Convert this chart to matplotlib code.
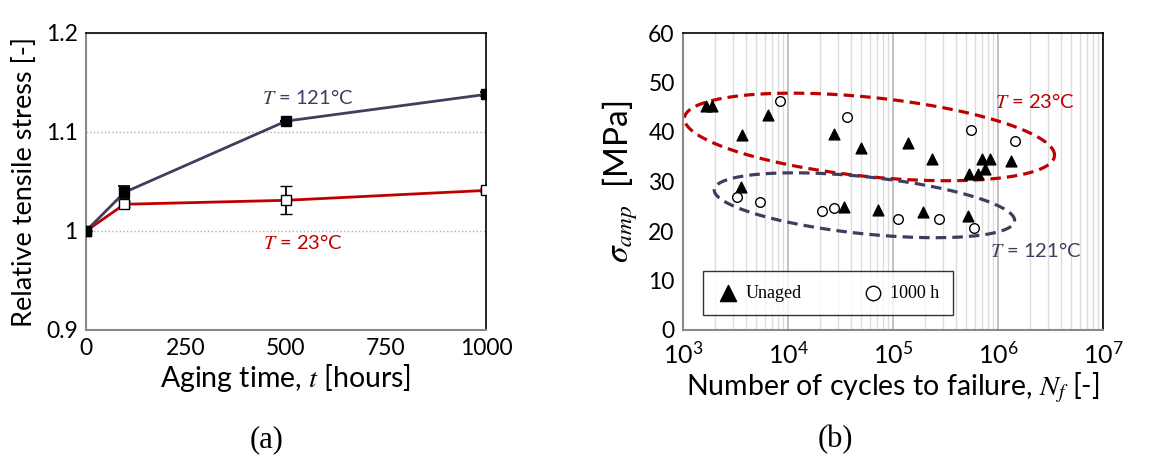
import numpy as np
import matplotlib
matplotlib.use("Agg")
import matplotlib.pyplot as plt
from matplotlib.ticker import LogLocator, LogFormatterMathtext, NullFormatter

plt.rcParams['font.family'] = ['Lato', 'DejaVu Sans']
plt.rcParams['mathtext.fontset'] = 'stix'

# ---- panel (a): relative tensile stress vs aging time
t_hours = [0, 96, 500, 1000]
rel_121 = [1.000, 1.039, 1.111, 1.138]
err_121 = [0.0, 0.006, 0.0, 0.002]
rel_23 = [1.000, 1.027, 1.031, 1.041]
err_23 = [0.0, 0.003, 0.014, 0.002]

# ---- panel (b): S-N data
unaged_N = [1650, 1900, 3670, 6450, 3590, 27400, 49900, 34100, 139000, 72000,
            235000, 193000, 526000, 646000, 757000, 709000, 833000, 1.32e6, 518000]
unaged_S = [45.3, 45.3, 39.4, 43.4, 28.8, 39.6, 36.7, 24.8, 37.8, 24.3,
            34.6, 23.9, 31.5, 31.5, 32.5, 34.6, 34.6, 34.1, 23.1]
aged_N = [8340, 36500, 557000, 1.44e6, 3270, 5370, 21200, 27400, 112000, 274000, 590000]
aged_S = [46.3, 43.0, 40.5, 38.2, 26.9, 25.9, 24.1, 24.7, 22.5, 22.5, 20.6]

RED = '#C00000'
BLUE = '#403E5E'

W, H = 1171, 458
fig = plt.figure(figsize=(W / 100, H / 100), dpi=100)

def px_axes(l, t, r, b):
    return fig.add_axes([l / W, 1 - b / H, (r - l) / W, (b - t) / H])

def style_spines(ax):
    for s in ['left', 'bottom']:
        ax.spines[s].set_color('#8a8a8a')
        ax.spines[s].set_linewidth(1.5)
    for s in ['top', 'right']:
        ax.spines[s].set_color('black')
        ax.spines[s].set_linewidth(1.2)
    ax.tick_params(length=0, labelsize=16.5, pad=6)

# panel (a)
ax1 = px_axes(86, 33, 486, 330)
ax1.set_xlim(0, 1000)
ax1.set_ylim(0.9, 1.2)
ax1.set_xticks([0, 250, 500, 750, 1000])
ax1.set_yticks([0.9, 1.0, 1.1, 1.2])
ax1.set_yticklabels(['0.9', '1', '1.1', '1.2'])
ax1.yaxis.grid(True, linestyle=':', color='#b0b0b0', linewidth=1)
ax1.set_axisbelow(True)
style_spines(ax1)

ax1.errorbar(t_hours, rel_23, yerr=err_23, color=RED, lw=2, marker='s', ms=7.5,
             mfc='white', mec='black', mew=1, ecolor='black', elinewidth=1.3,
             capsize=4, capthick=1.3, zorder=3)
ax1.errorbar(t_hours, rel_121, yerr=err_121, color=BLUE, lw=2, marker='s', ms=7.5,
             mfc='black', mec='black', ecolor='black', elinewidth=1.3,
             capsize=4, capthick=1.3, zorder=4)
ax1.text(555, 1.135, r'$T$ = 121°C', color=BLUE, fontsize=14.5, ha='center', va='center')
ax1.text(543, 0.988, r'$T$ = 23°C', color=RED, fontsize=14.5, ha='center', va='center')
ax1.set_xlabel(r'Aging time, $t$ [hours]', fontsize=20.5, labelpad=2)
ax1.set_ylabel('Relative tensile stress [-]', fontsize=19.5, labelpad=6)

# panel (b)
ax2 = px_axes(683, 33, 1103, 330)
ax2.set_xscale('log')
ax2.set_xlim(1e3, 1e7)
ax2.set_ylim(0, 60)
ax2.set_yticks(np.arange(0, 61, 10))
ax2.xaxis.set_major_locator(LogLocator(base=10))
ax2.xaxis.set_minor_locator(LogLocator(base=10, subs=np.arange(2, 10)))
ax2.xaxis.set_major_formatter(LogFormatterMathtext())
ax2.xaxis.set_minor_formatter(NullFormatter())
ax2.xaxis.grid(True, which='major', color='#b8b8b8', linewidth=1.2)
ax2.xaxis.grid(True, which='minor', color='#dcdcdc', linewidth=1)
ax2.set_axisbelow(True)
style_spines(ax2)
ax2.tick_params(axis='x', which='both', length=0, labelsize=18, pad=8)

ax2.scatter(unaged_N, unaged_S, marker='^', s=60, color='black', zorder=3, label='Unaged')
ax2.scatter(aged_N, aged_S, marker='o', s=48, facecolor='white', edgecolor='black',
            linewidth=1, zorder=3, label='1000 h')

# ellipses drawn in axes pixel units
ax_w, ax_h = 420.0, 297.0
def ellipse(cx, cy, a, b, ang_deg, color):
    ph = np.linspace(0, 2 * np.pi, 300)
    th = np.deg2rad(ang_deg)
    x = a * np.cos(ph) * np.cos(th) - b * np.sin(ph) * np.sin(th)
    y = a * np.cos(ph) * np.sin(th) + b * np.sin(ph) * np.cos(th)
    ax2.plot(cx + x / ax_w, cy + y / ax_h, transform=ax2.transAxes, color=color,
             lw=2.3, ls=(0, (3.3, 1.9)), zorder=2)

ellipse(0.444, 0.650, 186, 39.6, -5.9, RED)
ellipse(0.432, 0.420, 151, 28.5, -6.0, BLUE)

ax2.text(0.838, 0.768, r'$T$ = 23°C', color=RED, fontsize=14.5, ha='center', va='center',
         transform=ax2.transAxes)
ax2.text(0.84, 0.266, r'$T$ = 121°C', color=BLUE, fontsize=14.5, ha='center', va='center',
         transform=ax2.transAxes)

leg = ax2.legend(loc='lower left', bbox_to_anchor=(0.048, 0.05), borderaxespad=0,
                 ncol=2, frameon=True, fancybox=False, edgecolor='black',
                 columnspacing=3.3, handletextpad=0.3, handlelength=1.3,
                 markerscale=1.5, prop={'family': 'Liberation Serif', 'size': 13},
                 borderpad=0.75)
leg.get_frame().set_linewidth(1)

ax2.set_xlabel(r'Number of cycles to failure, $N_f$ [-]', fontsize=20.5, labelpad=2)
ax2.set_ylabel(r'$\sigma_{amp}$  [MPa]', fontsize=24, labelpad=6)

fig.text(267 / W, 1 - 440 / H, '(a)', fontsize=22, family='Liberation Serif', ha='center', va='center')
fig.text(835 / W, 1 - 440 / H, '(b)', fontsize=22, family='Liberation Serif', ha='center', va='center')

fig.savefig('out.png', dpi=100)
